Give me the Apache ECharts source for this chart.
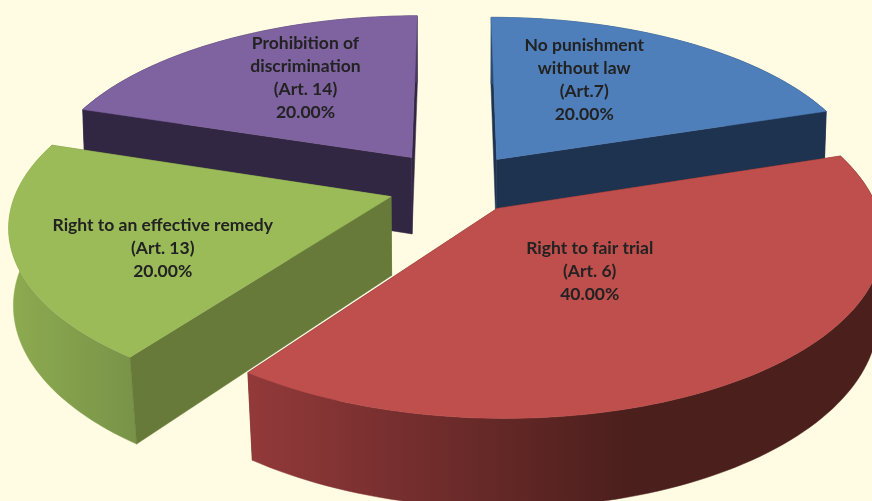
<!DOCTYPE html>
<html>
<head>
<meta charset="utf-8">
<title>Articles pie</title>
<script src="https://cdn.jsdelivr.net/npm/echarts@6/dist/echarts.min.js"></script>
<style>
  html, body { margin: 0; padding: 0; background: #fffce3; }
  #main { width: 872px; height: 501px; }
</style>
</head>
<body>
<div id="main"></div>
<script>
// data, in pie order, clockwise from 12 o'clock
var categories = [
  'No punishment\nwithout law\n(Art.7)',
  'Right to fair trial\n(Art. 6)',
  'Right to an effective remedy\n(Art. 13)',
  'Prohibition of\ndiscrimination\n(Art. 14)'
];
var values = [20, 40, 20, 20];

// colours per slice
var topColors = ['#4f7fba', '#be4f4c', '#9bbb59', '#7f62a0'];
var cutColors = ['#1e3350', '#5e2523', '#677a3a', '#322742'];
var rimStops = [
  [[0, '#2b4a70'], [1, '#1e3350']],
  [[0, '#93393a'], [0.6, '#4b1f1c'], [1, '#4b1f1c']],
  [[0, '#8dab50'], [1, '#789348']],
  [[0, '#322742'], [1, '#4a3a62']]
];
// back slices are painted first
var paintRank = [1, 3, 2, 0];
// label spot inside each slice: shift from the mid angle (deg), radius
var labelShift = [-9, 2.1, -8.4, 4.5];
var labelRadius = [0.59, 0.404, 0.64, 0.62];
// small extra pull on the plane, per slice
var pullU = [0.004, 0, 0.016, -0.003];
var pullV = [0, 0.005, 0.025, -0.012];

// camera of the 3D pie
var CX = 454, CY = 183, SX = 372, SY = 170;
var PERSP = 0.15, EXPLODE = 0.175, EXPLODE_WIDE = 1.1, DEPTH = 78, DEPTH_GROW = 10;

var total = values.reduce(function (a, b) { return a + b; }, 0);
var rad = Math.PI / 180;

function project(u, v, z) {
  var s = 1 / (1 - PERSP * v);
  var shrink = 0.007 + 0.015 * Math.max(v, 0);
  return [
    CX + SX * u * s * (1 - shrink * z),
    CY + SY * v * s + z * (DEPTH + DEPTH_GROW * v)
  ];
}

function renderSlice(params, api) {
  var i = params.dataIndex;
  var before = 0;
  for (var k = 0; k < i; k++) before += values[k];
  var a0 = before / total * 360;
  var a1 = a0 + api.value(0) / total * 360;
  var mid = (a0 + a1) / 2;
  var ox = EXPLODE * EXPLODE_WIDE * Math.sin(mid * rad) + pullU[i];
  var oy = -EXPLODE * Math.cos(mid * rad) + pullV[i];

  function at(angle, r, z) {
    return project(ox + r * Math.sin(angle * rad), oy - r * Math.cos(angle * rad), z);
  }
  var rimTop = [], rimBottom = [];
  for (var a = a0; a < a1; a += 1.5) {
    rimTop.push(at(a, 1, 0));
    rimBottom.push(at(a, 1, 1));
  }
  rimTop.push(at(a1, 1, 0));
  rimBottom.push(at(a1, 1, 1));

  function cutWall(angle) {
    return [at(angle, 0, 0), at(angle, 1, 0), at(angle, 1, 1), at(angle, 0, 1)];
  }
  var base = paintRank[i] * 10;
  function poly(points, fill, z) {
    return {
      type: 'polygon',
      z2: base + z,
      shape: { points: points },
      style: { fill: fill, stroke: fill, lineWidth: 0.5 }
    };
  }
  var rimFill = new echarts.graphic.LinearGradient(0, 0, 1, 0, rimStops[i].map(function (s) {
    return { offset: s[0], color: s[1] };
  }));
  var startFront = -Math.cos((a0 - 90) * rad) > 0;
  var endFront = -Math.cos((a1 + 90) * rad) > 0;

  var labelAngle = mid + labelShift[i];
  var spot = at(labelAngle, labelRadius[i], 0);

  return {
    type: 'group',
    children: [
      poly(cutWall(a0), cutColors[i], startFront ? 2 : 0),
      poly(cutWall(a1), cutColors[i], endFront ? 2 : 0),
      poly(rimTop.concat(rimBottom.slice().reverse()), rimFill, 1),
      poly([at(a0, 0, 0)].concat(rimTop), topColors[i], 3),
      {
        type: 'text',
        z2: 100,
        style: {
          x: spot[0],
          y: spot[1],
          text: categories[i] + '\n' + (api.value(0) / total * 100).toFixed(2) + '%',
          fill: '#222222',
          font: 'bold 17.5px Lato',
          lineHeight: 23,
          align: 'center',
          verticalAlign: 'middle'
        }
      }
    ]
  };
}

var chart = echarts.init(document.getElementById('main'));
chart.setOption({
  backgroundColor: '#fffce3',
  animation: false,
  series: [{
    type: 'custom',
    coordinateSystem: 'none',
    renderItem: renderSlice,
    data: values.map(function (v) { return [v]; })
  }]
});
</script>
</body>
</html>
